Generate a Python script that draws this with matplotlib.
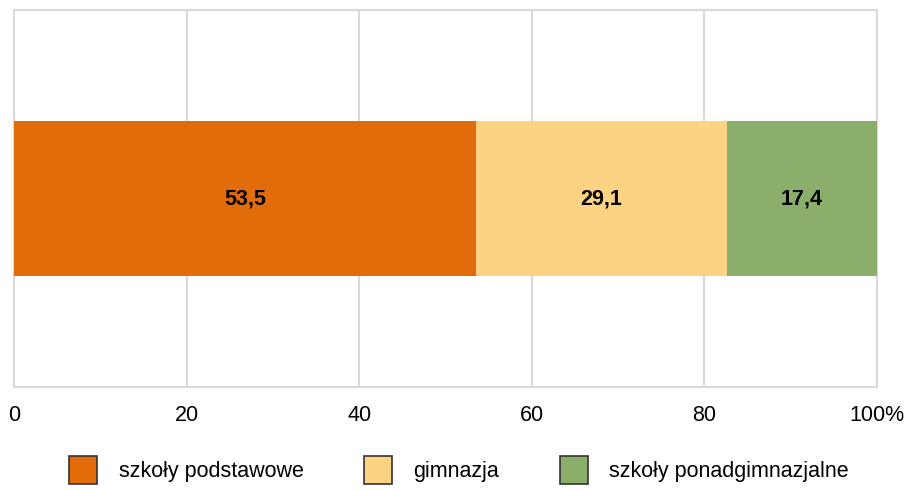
import matplotlib.pyplot as plt
from matplotlib.patches import Patch

plt.rcParams['font.family'] = ['Liberation Sans', 'DejaVu Sans']

# dane
kategorie = ['szkoły podstawowe', 'gimnazja', 'szkoły ponadgimnazjalne']
wartosci = [53.5, 29.1, 17.4]
kolory = ['#e36c0a', '#fcd383', '#8aaf6b']
etykiety_osi = ['0', '20', '40', '60', '80', '100%']

fig = plt.figure(figsize=(9.08, 4.9), dpi=100)
ax = fig.add_axes([14 / 908, 1 - 387 / 490, 863 / 908, 377 / 490])

lewo = 0
for nazwa, v, k in zip(kategorie, wartosci, kolory):
    ax.barh(0, v, left=lewo, height=0.41, color=k, label=nazwa, zorder=3)
    ax.text(lewo + v / 2, 0, f'{v:.1f}'.replace('.', ','), ha='center', va='center',
            fontsize=15.5, fontweight='bold', zorder=4)
    lewo += v

ax.set_xlim(0, 100)
ax.set_ylim(-0.5, 0.5)
ax.set_xticks([0, 20, 40, 60, 80, 100])
ax.set_xticklabels(etykiety_osi, fontsize=15.5)
ax.set_yticks([])
ax.grid(axis='x', color='#d9d9d9', linewidth=1.5, zorder=0)
for s in ax.spines.values():
    s.set_color('#d9d9d9')
    s.set_linewidth(1.5)
ax.tick_params(axis='x', length=0, pad=13)

uchwyty = [Patch(facecolor=k, edgecolor='#333333', linewidth=1.2) for k in kolory]
fig.legend(uchwyty, kategorie, loc='center', bbox_to_anchor=(459 / 908, 1 - 470 / 490),
           ncol=3, frameon=False, fontsize=15.5, handlelength=1.3, handleheight=1.6,
           handletextpad=1.0, columnspacing=2.8, borderpad=0)

fig.savefig('out.png', dpi=100)
